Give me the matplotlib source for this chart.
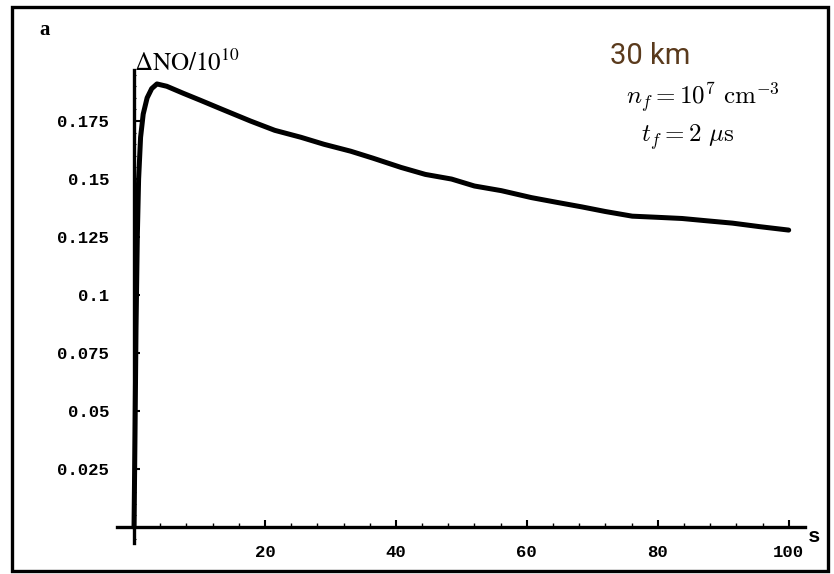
import numpy as np
import matplotlib.pyplot as plt
from matplotlib.ticker import MultipleLocator, FixedLocator
from matplotlib.patches import Rectangle

# time (s) and Delta NO / 1e10
t_s = [0.0, 0.15, 0.3, 0.5, 0.7, 1.0, 1.4, 2.0, 2.7, 3.5, 5.0, 7.5, 10.1, 13.5,
       17.8, 21.5, 25.5, 29.0, 33.1, 36.5, 40.8, 44.5, 48.5, 52.0, 56.1, 60.7,
       64.5, 68.4, 72.0, 76.1, 80.0, 83.7, 87.5, 91.4, 95.5, 100.0]
dNO = [0.0, 0.04, 0.085, 0.125, 0.150, 0.168, 0.178, 0.185, 0.189, 0.191,
       0.190, 0.187, 0.184, 0.180, 0.175, 0.171, 0.168, 0.165, 0.162, 0.159,
       0.155, 0.152, 0.150, 0.147, 0.145, 0.142, 0.140, 0.138, 0.136, 0.134,
       0.1335, 0.133, 0.132, 0.131, 0.1295, 0.128]

y_ticks = [0.025, 0.05, 0.075, 0.1, 0.125, 0.15, 0.175]
y_ticklabels = ['0.025', '0.05', '0.075', '0.1', '0.125', '0.15', '0.175']
x_ticks = [20, 40, 60, 80, 100]

fig = plt.figure(figsize=(8.34, 5.74), dpi=100)
ax = fig.add_axes([0.1403, 0.054, 0.825, 0.824])

ax.plot(t_s, dNO, color='black', lw=3.6, solid_capstyle='round')

ax.set_xlim(-2.6, 102.5)
ax.set_ylim(-0.0069, 0.197)

for side in ['top', 'right']:
    ax.spines[side].set_visible(False)
ax.spines['left'].set_position(('data', 0))
ax.spines['bottom'].set_position(('data', 0))
ax.spines['left'].set_linewidth(2.4)
ax.spines['bottom'].set_linewidth(2.4)

mono = {'family': 'Liberation Mono', 'weight': 'bold', 'size': 12.5}

ax.yaxis.set_major_locator(FixedLocator(y_ticks))
ax.set_yticklabels(y_ticklabels, fontdict=mono)
ax.yaxis.set_minor_locator(MultipleLocator(0.005))
ax.xaxis.set_major_locator(FixedLocator(x_ticks))
ax.set_xticklabels([str(v) for v in x_ticks], fontdict=mono)
ax.xaxis.set_minor_locator(MultipleLocator(4))

ax.tick_params(axis='y', which='major', direction='in', length=4, width=1.5, pad=18)
ax.tick_params(axis='y', which='minor', direction='in', length=1.5, width=0.8)
ax.tick_params(axis='x', which='major', direction='in', length=5, width=1.5, pad=13)
ax.tick_params(axis='x', which='minor', direction='in', length=3, width=1.0)

# axis labels
ax.text(0.0, 0.1945, r'$\mathrm{\Delta NO/10^{10}}$', fontsize=18,
        math_fontfamily='stix', ha='left', va='bottom', transform=ax.transData)
fig.text(814 / 834, 1 - 537 / 574, 's', fontsize=15, fontweight='bold',
         family='Liberation Mono', ha='center', va='center')

# annotations
fig.text(650 / 834, 1 - 56 / 574, '30 km', fontsize=21, color='#5a3a1c',
         family='Roboto', ha='center', va='center')
fig.text(703 / 834, 1 - 98 / 574, r'$n_f = 10^7\ \mathrm{cm}^{-3}$',
         fontsize=18, math_fontfamily='cm', ha='center', va='center')
fig.text(688 / 834, 1 - 137 / 574, r'$t_f = 2\ \mu\mathrm{s}$',
         fontsize=18, math_fontfamily='cm', ha='center', va='center')

fig.text(45 / 834, 1 - 30 / 574, 'a', fontsize=15, fontweight='bold',
         family='Liberation Serif', ha='center', va='center')

# scanned frame
fig.patches.append(Rectangle((0.014, 0.006), 0.979, 0.982, transform=fig.transFigure,
                             fill=False, edgecolor='black', lw=2.4))

fig.savefig('out.png', dpi=100)
